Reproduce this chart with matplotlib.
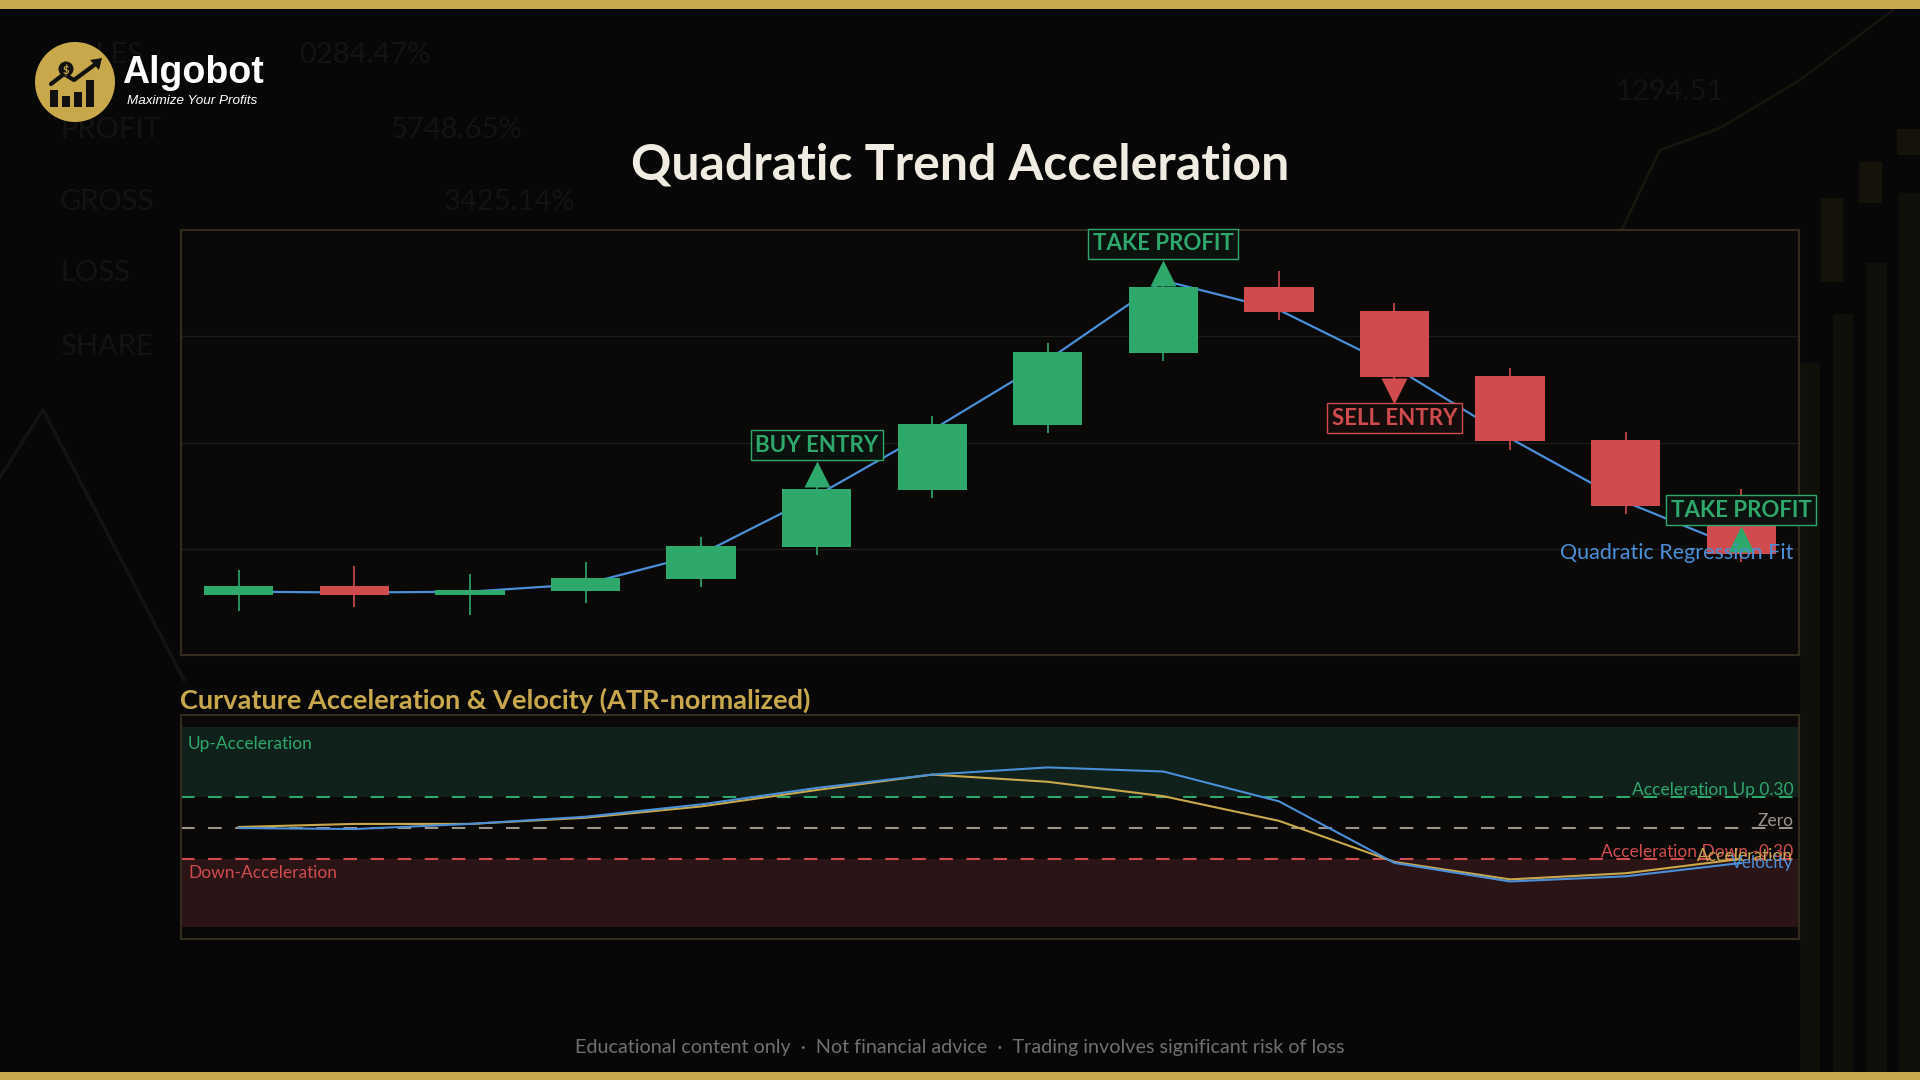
import matplotlib
matplotlib.use("Agg")
import matplotlib.pyplot as plt
from matplotlib.patches import Circle, Rectangle, Polygon

plt.rcParams['font.family'] = ['Lato', 'DejaVu Sans']

# --- data ------------------------------------------------------------------
candle_idx = list(range(14))
opens = [97.84, 98.25, 97.84, 98.03, 98.59, 100.10, 102.78, 105.84, 109.23, 112.32, 111.19, 108.13, 105.12, 102.00]
closes = [98.25, 97.84, 98.06, 98.62, 100.13, 102.80, 105.87, 109.26, 112.32, 111.16, 108.10, 105.08, 102.03, 99.74]
highs = [99.00, 99.19, 98.81, 99.38, 100.57, 102.95, 106.25, 109.67, 112.49, 113.07, 111.56, 108.51, 105.49, 102.81]
lows = [97.08, 97.27, 96.90, 97.46, 98.21, 99.72, 102.40, 105.46, 108.85, 110.78, 107.94, 104.65, 101.65, 99.38]
quad_fit = [97.98, 97.94, 97.98, 98.34, 99.75, 102.50, 105.59, 108.88, 112.62, 111.24, 108.55, 105.20, 102.20, 99.99]

signal_idx = [5, 8, 10, 13]
signal_text = ["BUY ENTRY", "TAKE PROFIT", "SELL ENTRY", "TAKE PROFIT"]
signal_dir = ["up", "up", "down", "up"]
signal_marker_y = [103.50, 113.00, 107.42, 100.44]
signal_label_y = [104.88, 114.36, 106.14, 101.82]

velocity = [0.00, -0.01, 0.04, 0.11, 0.23, 0.39, 0.52, 0.59, 0.55, 0.26, -0.34, -0.52, -0.47, -0.34]
acceleration = [0.01, 0.04, 0.04, 0.10, 0.21, 0.37, 0.52, 0.45, 0.31, 0.07, -0.33, -0.50, -0.44, -0.30]
accel_threshold = 0.30

# --- colours -----------------------------------------------------------------
BG = "#070707"
PANEL = "#0a0908"
EDGE = "#332c1d"
GOLD = "#c9a84c"
GREEN = "#2ea86b"
RED = "#d04b4d"
BLUE = "#4a8fd8"
GREY = "#9a948a"

W, H = 1920, 1080


def rect(left, top, right, bottom):
    return [left / W, 1 - bottom / H, (right - left) / W, (bottom - top) / H]


fig = plt.figure(figsize=(19.2, 10.8), dpi=100, facecolor=BG)

# background layer in pixel coordinates (decor, logo, gold bars)
bg = fig.add_axes([0, 0, 1, 1], zorder=0)
bg.set_xlim(0, W)
bg.set_ylim(H, 0)
bg.axis("off")

faint = "#131313"
for txt, x, y in [("SALES", 60, 55), ("0284.47%", 299, 55), ("PROFIT", 60, 130), ("5748.65%", 390, 130),
                  ("GROSS", 60, 202), ("3425.14%", 444, 202), ("LOSS", 60, 273), ("SHARE", 60, 347),
                  ("1294.51", 1616, 92)]:
    bg.text(x, y, txt, color=faint, fontsize=21, va="center", ha="left", zorder=0.5,
            family=["Liberation Sans Narrow", "Lato"])
bg.plot([0, 43, 184], [477, 410, 680], color="#131313", lw=2.5, zorder=0.5)
bg.plot([1560, 1623, 1660, 1720, 1800, 1893], [330, 227, 150, 128, 80, 10], color="#16150d", lw=2, zorder=0.5)
for x0, x1, top in [(1800, 1820, 363), (1833, 1853, 314), (1866, 1887, 263), (1899, 1920, 193)]:
    bg.add_patch(Rectangle((x0, top), x1 - x0, H - top, color="#10100a", lw=0, zorder=0.5))
for x0, x1, t, b in [(1821, 1843, 198, 282), (1859, 1882, 162, 203), (1897, 1920, 129, 155)]:
    bg.add_patch(Rectangle((x0, t), x1 - x0, b - t, color="#15120a", lw=0, zorder=0.5))

bg.add_patch(Rectangle((0, 0), W, 8.5, color=GOLD, lw=0, zorder=2))
bg.add_patch(Rectangle((0, 1072), W, 8, color=GOLD, lw=0, zorder=2))

# logo
bg.add_patch(Circle((75, 82), 40, color=GOLD, lw=0, zorder=2))
for bx, btop in [(50, 90), (62, 96), (74, 92), (86, 80)]:
    bg.add_patch(Rectangle((bx, btop), 8, 107 - btop, color="#111", lw=0, zorder=3))
bg.plot([51, 64, 74, 97], [84, 74, 80, 63], color="#111", lw=3, solid_capstyle="round", zorder=3)
bg.add_patch(Polygon([[90, 60], [102, 58], [99, 70]], color="#111", lw=0, zorder=3))
bg.add_patch(Circle((66, 69), 7.5, color="#111", lw=0, zorder=3))
bg.text(66, 69.5, "$", color=GOLD, fontsize=8, fontweight="bold", ha="center", va="center", zorder=4)
bg.text(122, 73, "Algobot", color="white", fontsize=27, fontweight="bold", ha="left", va="center",
        family="Liberation Sans", zorder=4)
bg.text(127, 101, "Maximize Your Profits", color="white", fontsize=9.7, style="italic", ha="left",
        va="center", family="Liberation Sans", zorder=4)

# title and footer
fig.text(0.5, 1 - 165 / H, "Quadratic Trend Acceleration", ha="center", va="center", fontsize=36,
         fontweight="bold", color="#f0ece2")
fig.text(0.5, 1 - 1047 / H,
         "Educational content only  \u00b7  Not financial advice  \u00b7  Trading involves significant risk of loss",
         ha="center", va="center", fontsize=14.2, color="#707070")

# --- price panel -------------------------------------------------------------
ax = fig.add_axes(rect(181, 230, 1799, 655), zorder=2)
ax.set_facecolor(PANEL)
ax.set_xlim(-0.5, 13.5)
ax.set_ylim(95, 115)
ax.set_yticks([100, 105, 110])
ax.set_xticks([])
ax.tick_params(length=0, labelleft=False)
ax.grid(True, axis="y", color="#1d1c1a", lw=1)
ax.set_axisbelow(True)
for s in ax.spines.values():
    s.set_color(EDGE)
    s.set_linewidth(1.5)

ax.plot(candle_idx, quad_fit, color=BLUE, lw=1.6, zorder=2)
for i in candle_idx:
    c = GREEN if closes[i] >= opens[i] else RED
    ax.vlines(i, lows[i], highs[i], color=c, lw=1.2, zorder=3)
    ax.bar(i, closes[i] - opens[i], bottom=opens[i], width=0.6, color=c, lw=0, zorder=4)

for i, txt, d, my, ly in zip(signal_idx, signal_text, signal_dir, signal_marker_y, signal_label_y):
    c = GREEN if d == "up" else RED
    fc = "#0c130f" if d == "up" else "#150c0c"
    ax.plot(i, my, marker="^" if d == "up" else "v", ms=19, color=c, mec="none", zorder=5)
    ax.text(i, ly, txt, color=c, fontsize=16, fontweight="bold", ha="center", va="center", zorder=6,
            clip_on=False, bbox=dict(boxstyle="square,pad=0.2", fc=fc, ec=c, lw=1))

ax.text(13.45, 99.8, "Quadratic Regression Fit", color=BLUE, fontsize=15.5, ha="right", va="center", zorder=7)

# --- acceleration panel --------------------------------------------------------
ax2 = fig.add_axes(rect(181, 715, 1799, 939), zorder=2)
ax2.set_facecolor(PANEL)
ax2.set_xlim(-0.5, 13.5)
ax2.set_ylim(-1.08, 1.10)
ax2.set_xticks([])
ax2.set_yticks([])
for s in ax2.spines.values():
    s.set_color(EDGE)
    s.set_linewidth(1.5)

ax2.axhspan(accel_threshold, 0.98, color="#10201a", lw=0)
ax2.axhspan(-0.96, -accel_threshold, color="#2a1416", lw=0)
ax2.axhline(accel_threshold, color=GREEN, lw=1.5, ls=(0, (6.5, 6.5)))
ax2.axhline(0, color=GREY, lw=1.5, ls=(0, (6.5, 6.5)))
ax2.axhline(-accel_threshold, color=RED, lw=1.5, ls=(0, (6.5, 6.5)))

ax2.plot(candle_idx, acceleration, color=GOLD, lw=1.5)
ax2.plot(candle_idx, velocity, color=BLUE, lw=1.5)

ax2.text(-0.44, 0.82, "Up-Acceleration", color=GREEN, fontsize=12.5, ha="left", va="center")
ax2.text(-0.44, -0.44, "Down-Acceleration", color=RED, fontsize=12.5, ha="left", va="center")
ax2.text(13.45, accel_threshold + 0.02, "Acceleration Up 0.30", color=GREEN, fontsize=12.5, ha="right", va="baseline")
ax2.text(13.45, 0.02, "Zero", color=GREY, fontsize=12.5, ha="right", va="baseline")
ax2.text(13.45, -accel_threshold + 0.02, "Acceleration Down -0.30", color=RED, fontsize=12.5, ha="right",
         va="baseline")
ax2.text(13.45, acceleration[-1] + 0.03, "Acceleration", color=GOLD, fontsize=12.5, ha="right", va="center")
ax2.text(13.45, velocity[-1], "Velocity", color=BLUE, fontsize=12.5, ha="right", va="center")

fig.text(180 / W, 1 - 700 / H, "Curvature Acceleration & Velocity (ATR-normalized)", color=GOLD,
         fontsize=19.5, fontweight="bold", ha="left", va="center")

fig.savefig("out.png", dpi=100, facecolor=fig.get_facecolor())
